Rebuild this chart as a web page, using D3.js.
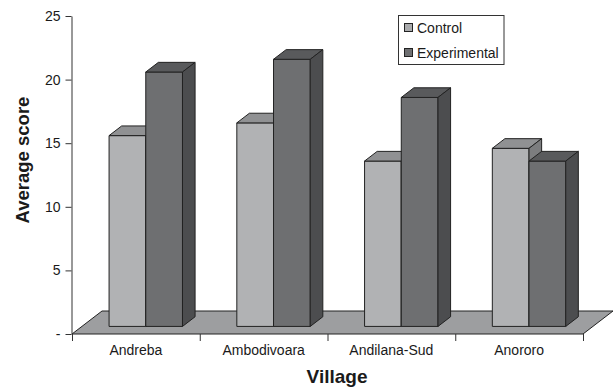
<!DOCTYPE html>
<html>
<head>
<meta charset="utf-8">
<script src="https://cdn.jsdelivr.net/npm/d3@7"></script>
<style>
  html, body { margin: 0; padding: 0; background: #fff; }
  svg { display: block; }
  text { font-family: "Liberation Sans", Arial, sans-serif; fill: #1a1a1a; }
</style>
</head>
<body>
<svg id="chart" width="613" height="387"></svg>
<script>
// Average score per village, control vs experimental group
const villages = ["Andreba", "Ambodivoara", "Andilana-Sud", "Anororo"];
const seriesNames = ["Control", "Experimental"];
const controlScores = [15, 16, 13, 14];
const experimentalScores = [20, 21, 18, 13];
const yTickValues = [0, 5, 10, 15, 20, 25];

const rows = villages.map((v, i) => ({
  village: v,
  values: [
    { series: "Control", value: controlScores[i] },
    { series: "Experimental", value: experimentalScores[i] }
  ]
}));

const W = 613, H = 387;
const plot = { left: 72, right: 583, top: 16, bottom: 334 };

// oblique depth of the floor, and the slab of that depth the columns occupy
const depth = { dx: 30, dy: -23 };
const barFront = 0.33, barBack = 0.75;

const colors = {
  Control:      { front: "#b1b2b4", top: "#909193", side: "#7c7d7f", swatch: "#a9aaac" },
  Experimental: { front: "#6e6f71", top: "#595a5c", side: "#4c4d4f", swatch: "#6e6f71" }
};
const edge = "#222";

const svg = d3.select("#chart");
svg.append("rect").attr("width", W).attr("height", H).attr("fill", "#fff");

const x = d3.scaleBand().domain(villages).range([plot.left, plot.right]).paddingInner(0).paddingOuter(0);
const xs = d3.scaleBand().domain(seriesNames).range([0, x.bandwidth()]).paddingInner(0).paddingOuter(0.74);
const y = d3.scaleLinear().domain([0, 25]).range([plot.bottom, plot.top]);

// floor
const y0 = y(0);
svg.append("path")
  .attr("d", d3.line()([
    [x.range()[0], y0],
    [x.range()[0] + depth.dx, y0 + depth.dy],
    [x.range()[1] + depth.dx, y0 + depth.dy],
    [x.range()[1], y0]
  ]) + "Z")
  .attr("fill", "#9d9ea0")
  .attr("stroke", edge)
  .attr("stroke-width", 1)
  .attr("stroke-linejoin", "round");

// y axis
const yAxis = d3.axisLeft(y)
  .tickValues(yTickValues)
  .tickFormat(d => d === 0 ? "-" : d)
  .tickSize(6)
  .tickSizeOuter(0)
  .tickPadding(5);
const gy = svg.append("g").attr("transform", `translate(${plot.left - 0.5},0)`).call(yAxis);
gy.select(".domain").attr("stroke", "#333");
gy.selectAll(".tick line").attr("stroke", "#333");
gy.selectAll(".tick text").attr("font-size", 14).attr("fill", "#1a1a1a")
  .style("font-family", "'Liberation Sans', Arial, sans-serif");

// x axis: boundary ticks under the floor's front edge, labels centred in each band
const boundaries = villages.map(v => x(v)).concat([x.range()[1]]);
svg.append("g").selectAll("line").data(boundaries).join("line")
  .attr("x1", d => d + 0.5).attr("x2", d => d + 0.5)
  .attr("y1", y0).attr("y2", y0 + 7)
  .attr("stroke", "#333");
svg.append("g").selectAll("text").data(villages).join("text")
  .attr("x", d => x(d) + x.bandwidth() / 2)
  .attr("y", y0 + 21)
  .attr("text-anchor", "middle")
  .attr("font-size", 14)
  .text(d => d);

// 3D columns
const fx = depth.dx * barFront, fy = depth.dy * barFront;
const bx = depth.dx * (barBack - barFront), by = depth.dy * (barBack - barFront);
const poly = pts => d3.line()(pts) + "Z";

const groups = svg.append("g").selectAll("g").data(rows).join("g");
groups.each(function (row) {
  const g = d3.select(this);
  row.values.forEach(d => {
    const left = x(row.village) + xs(d.series) + fx;
    const right = left + xs.bandwidth();
    const top = y(d.value) + fy;
    const bottom = y0 + fy;
    const c = colors[d.series];
    g.append("path").attr("d", poly([[left, top], [right, top], [right, bottom], [left, bottom]]))
      .attr("fill", c.front).attr("stroke", edge).attr("stroke-linejoin", "round");
    g.append("path").attr("d", poly([[left, top], [left + bx, top + by], [right + bx, top + by], [right, top]]))
      .attr("fill", c.top).attr("stroke", edge).attr("stroke-linejoin", "round");
    g.append("path").attr("d", poly([[right, top], [right + bx, top + by], [right + bx, bottom + by], [right, bottom]]))
      .attr("fill", c.side).attr("stroke", edge).attr("stroke-linejoin", "round");
  });
});

// axis titles
svg.append("text")
  .attr("transform", "translate(28.5,160) rotate(-90)")
  .attr("text-anchor", "middle")
  .attr("font-size", 18.5)
  .attr("font-weight", "bold")
  .text("Average score");
svg.append("text")
  .attr("x", 337).attr("y", 383)
  .attr("text-anchor", "middle")
  .attr("font-size", 19)
  .attr("font-weight", "bold")
  .text("Village");

// legend
const legend = svg.append("g");
legend.append("rect")
  .attr("x", 398.5).attr("y", 15.5).attr("width", 105.5).attr("height", 49)
  .attr("fill", "#fff").attr("stroke", "#333");
seriesNames.forEach((s, i) => {
  const cy = 27.5 + i * 25;
  legend.append("rect")
    .attr("x", 404.5).attr("y", cy - 4).attr("width", 8).attr("height", 8)
    .attr("fill", colors[s].swatch).attr("stroke", edge);
  legend.append("text")
    .attr("x", 417).attr("y", cy + 5)
    .attr("font-size", 14)
    .text(s);
});
</script>
</body>
</html>
